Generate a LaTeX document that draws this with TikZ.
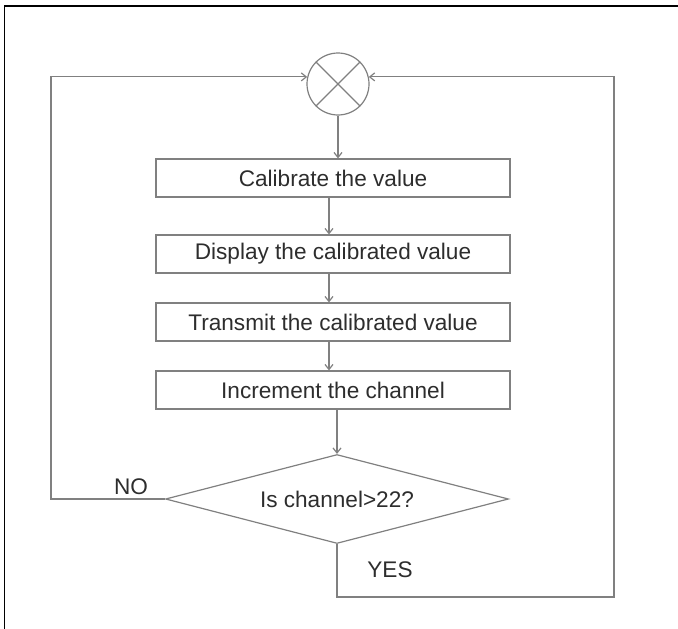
\documentclass[tikz,border=0pt]{standalone}
\usepackage{fontspec}
\setmainfont{Liberation Sans}
\usepackage{tikz}
\usetikzlibrary{shapes.geometric}
\usetikzlibrary{arrows.meta}

\definecolor{linegray}{RGB}{128,128,128}
\definecolor{textgray}{RGB}{45,45,45}

\tikzset{
  flow/.style={draw=linegray, line width=1.2pt},
  arr/.style={flow, -{Straight Barb[length=5pt,width=8pt]}},
  stepbox/.style={draw=linegray, line width=1.2pt, minimum width=354pt,
    minimum height=38pt, inner sep=0pt, text=textgray,
    font=\fontsize{22.6}{26}\selectfont},
  decision/.style={diamond, aspect=3.85, draw=linegray, line width=1.2pt,
    minimum width=343pt, minimum height=89pt, inner sep=0pt, text=textgray,
    font=\fontsize{22.6}{26}\selectfont},
  tag/.style={text=textgray, font=\fontsize{22.6}{26}\selectfont}
}

\begin{document}
\begin{tikzpicture}[x=1pt, y=-1pt]
      \clip (0,0) rectangle (678,629);

      % outer frame, only top and left edges show
      \draw[black, line width=1.6pt] (4.5,640) -- (4.5,6) -- (690,6);

      % summing point
      \node[circle, draw=linegray, line width=1.2pt, minimum size=62pt,
            inner sep=0pt] (sum) at (338,84) {};
      \draw[flow] (sum.45) -- (sum.225);
      \draw[flow] (sum.135) -- (sum.315);

      % processing steps
      \node[stepbox] (cal) at (333,178) {Calibrate the value};
      \node[stepbox] (disp) at (333,254) {Display the calibrated value};
      \node[stepbox] (trans) at (333,322) {Transmit the calibrated value};
      \node[stepbox] (inc) at (333,390) {Increment the channel};

      % test on the channel
      \node[decision] (test) at (337,499) {Is channel>22?};

      %write NO, YES
      \node[tag] (no) at (131,487) {NO};
      \node[tag] (yes) at (390,570) {YES};

      % corners of the two loops
      \coordinate (nocorner) at (51,499);
      \coordinate (yescorner) at (614,597);

      % arrows down the chain
      \draw[arr] (sum.south) -- (sum.south |- cal.north);
      \draw[arr] ([xshift=-4pt]cal.south) -- ([xshift=-4pt]disp.north);
      \draw[arr] ([xshift=-4pt]disp.south) -- ([xshift=-4pt]trans.north);
      \draw[arr] ([xshift=-4pt]trans.south) -- ([xshift=-4pt]inc.north);
      \draw[arr] ([xshift=4pt]inc.south) -- (test.north);

      % loops back to the summing point
      \draw[arr] (test.west) -- (nocorner) |- (sum.167);
      \draw[arr] (test.south) |- (yescorner) |- (sum.13);
    \end{tikzpicture}
\end{document}
